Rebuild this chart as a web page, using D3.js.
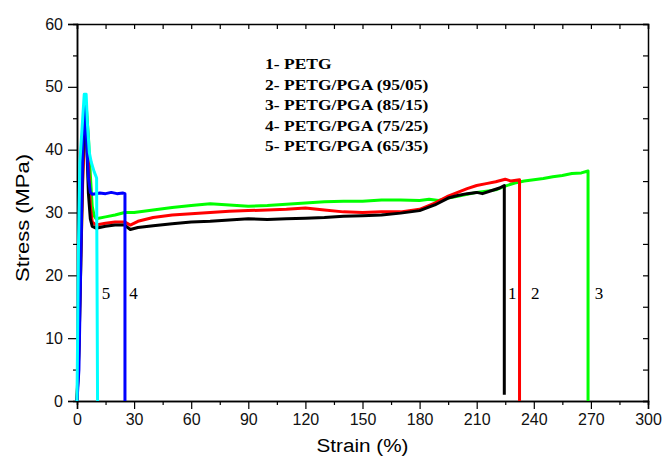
<!DOCTYPE html>
<html>
<head>
<meta charset="utf-8">
<script src="https://cdn.jsdelivr.net/npm/d3@7"></script>
<style>
  body { margin: 0; background: #fff; }
  svg { display: block; }
</style>
</head>
<body>
<div id="chart"></div>
<script>
// Данные: [strain %, stress MPa]
const petg = [[0,0],[1,10],[2,25],[3,38],[4,46],[5,42],[6,33],[7,29],[8,27.8],[10,27.5],[15,27.8],[20,28],[25,28],[28,27.3],[32,27.6],[40,27.9],[50,28.2],[60,28.5],[70,28.6],[80,28.8],[90,29],[100,28.9],[110,29],[120,29.1],[130,29.2],[140,29.4],[150,29.5],[160,29.6],[170,29.9],[180,30.3],[188,31.2],[195,32.3],[200,32.7],[205,33],[210,33.2],[213,33],[218,33.5],[222,33.9],[224.5,34.3],[224.5,1]];
const pga95 = [[0,0],[1,8],[2,22],[3,35],[4,43],[5,45.5],[6,38],[7,31],[8,28.5],[10,28],[15,28.3],[20,28.5],[25,28.5],[28,28],[32,28.6],[40,29.2],[50,29.6],[60,29.8],[70,30],[80,30.2],[90,30.3],[100,30.4],[110,30.5],[120,30.7],[130,30.4],[140,30.1],[150,30],[160,30.1],[170,30.1],[180,30.5],[188,31.5],[195,32.6],[200,33.2],[205,33.8],[210,34.3],[215,34.6],[220,34.9],[225,35.3],[228,35],[232.5,35.2],[232.5,0]];
const pga85 = [[0,0],[1,8],[2,22],[3,36],[4,44],[5,46.3],[6,42],[7,36],[8,31],[9,29.5],[10,29],[15,29.3],[20,29.6],[25,30],[30,30],[40,30.4],[50,30.8],[60,31.1],[70,31.4],[80,31.2],[90,31],[100,31.1],[110,31.3],[120,31.5],[130,31.7],[140,31.8],[150,31.8],[160,32],[170,32],[180,31.9],[185,32.1],[190,31.9],[195,32.3],[200,32.6],[210,33.2],[215,33.4],[220,33.6],[225,34.2],[230,34.7],[235,35],[240,35.2],[245,35.4],[250,35.7],[255,35.9],[260,36.2],[265,36.3],[268.5,36.6],[268.5,0]];
const pga75 = [[0,0],[1,5],[2,22],[3,40],[4,47.6],[5,42],[6,35.5],[7,33.2],[8,32.9],[10,33],[12,33.1],[15,33],[18,33.2],[21,33],[24,33.1],[25.2,33],[25.2,0]];
const pga65 = [[0,0],[0.8,25],[1.5,38],[3,45],[3.8,48.8],[4.8,48.8],[5.5,44],[6.5,39.5],[7.5,38],[9,36.5],[10.3,35.5],[10.8,0]];

const seriesColors = ["#00ff00", "#ff0000", "#000000", "#0000ff", "#00ffff"];
const seriesData = [pga85, pga95, petg, pga75, pga65];

const legendLabels = ["1- PETG", "2- PETG/PGA (95/05)", "3- PETG/PGA (85/15)", "4- PETG/PGA (75/25)", "5- PETG/PGA (65/35)"];

// номера кривых у точек разрыва
const curveLabels = [["1", 226.5, 16.2], ["2", 238.5, 16.2], ["3", 272, 16.2], ["4", 27.5, 16.2], ["5", 13, 16.2]];

const xTicks = d3.range(0, 301, 30);
const yTicks = d3.range(0, 61, 10);

const width = 662, height = 459;
const margin = { top: 24, right: 14, bottom: 58, left: 77 };

const svg = d3.select("#chart").append("svg")
    .attr("width", width)
    .attr("height", height);

const x = d3.scaleLinear().domain([0, 300]).range([margin.left, width - margin.right]);
const y = d3.scaleLinear().domain([0, 60]).range([height - margin.bottom, margin.top]);

const tickFont = "'Liberation Sans', Arial, sans-serif";
const serifFont = "'Liberation Serif', 'Times New Roman', serif";

// Оси: основные и промежуточные деления
function styleAxis(g) {
    g.select(".domain").attr("stroke", "#000").attr("stroke-width", 1.5);
    g.selectAll(".tick line").attr("stroke", "#000").attr("stroke-width", 1.2);
    g.selectAll("text").attr("font-family", tickFont).attr("font-size", 16).attr("fill", "#111");
}

const xMinor = d3.range(15, 300, 30);
const yMinor = d3.range(5, 60, 10);

svg.append("g")
    .attr("transform", `translate(0,${y(0)})`)
    .call(d3.axisBottom(x).tickValues(xMinor).tickSize(4).tickFormat(""))
    .call(styleAxis);
svg.append("g")
    .attr("transform", `translate(0,${y(0)})`)
    .call(d3.axisBottom(x).tickValues(xTicks).tickSize(8).tickPadding(5).tickFormat(d3.format("d")))
    .call(styleAxis);

svg.append("g")
    .attr("transform", `translate(${x(0)},0)`)
    .call(d3.axisLeft(y).tickValues(yMinor).tickSize(4).tickFormat(""))
    .call(styleAxis);
svg.append("g")
    .attr("transform", `translate(${x(0)},0)`)
    .call(d3.axisLeft(y).tickValues(yTicks).tickSize(9).tickPadding(5).tickFormat(d3.format("d")))
    .call(styleAxis);

// верх и право — деления внутрь
svg.append("g")
    .attr("transform", `translate(0,${y(60)})`)
    .call(d3.axisBottom(x).tickValues(d3.range(0, 301, 15)).tickSize(5).tickFormat(""))
    .call(styleAxis);
svg.append("g")
    .attr("transform", `translate(${x(300)},0)`)
    .call(d3.axisLeft(y).tickValues(d3.range(0, 61, 5)).tickSize(5).tickFormat(""))
    .call(styleAxis);

// Кривые
const line = d3.line().x(d => x(d[0])).y(d => y(d[1]));

svg.append("g").selectAll("path")
    .data(seriesData)
    .enter()
    .append("path")
    .attr("fill", "none")
    .attr("stroke", (d, i) => seriesColors[i])
    .attr("stroke-width", 3)
    .attr("stroke-linejoin", "round")
    .attr("d", line);

// Номера кривых
svg.append("g").selectAll("text")
    .data(curveLabels)
    .enter()
    .append("text")
    .attr("x", d => x(d[1]))
    .attr("y", d => y(d[2]))
    .attr("font-family", serifFont)
    .attr("font-size", 17)
    .text(d => d[0]);

// Легенда (в оригинале шрифт немного растянут по горизонтали)
svg.append("g")
    .attr("transform", "translate(265,0) scale(1.13,1)")
    .selectAll("text")
    .data(legendLabels)
    .enter()
    .append("text")
    .attr("x", 0)
    .attr("y", (d, i) => 69.5 + i * 20.4)
    .attr("font-family", serifFont)
    .attr("font-weight", "bold")
    .attr("font-size", 15.5)
    .text(d => d);

// Подписи осей
svg.append("text")
    .attr("x", (x(0) + x(300)) / 2)
    .attr("y", 452)
    .attr("text-anchor", "middle")
    .attr("font-family", tickFont)
    .attr("font-size", 18)
    .attr("textLength", 92)
    .attr("lengthAdjust", "spacingAndGlyphs")
    .text("Strain (%)");

svg.append("text")
    .attr("transform", `translate(29,218) rotate(-90)`)
    .attr("text-anchor", "middle")
    .attr("font-family", tickFont)
    .attr("font-size", 18)
    .attr("textLength", 128)
    .attr("lengthAdjust", "spacingAndGlyphs")
    .text("Stress (MPa)");
</script>
</body>
</html>
